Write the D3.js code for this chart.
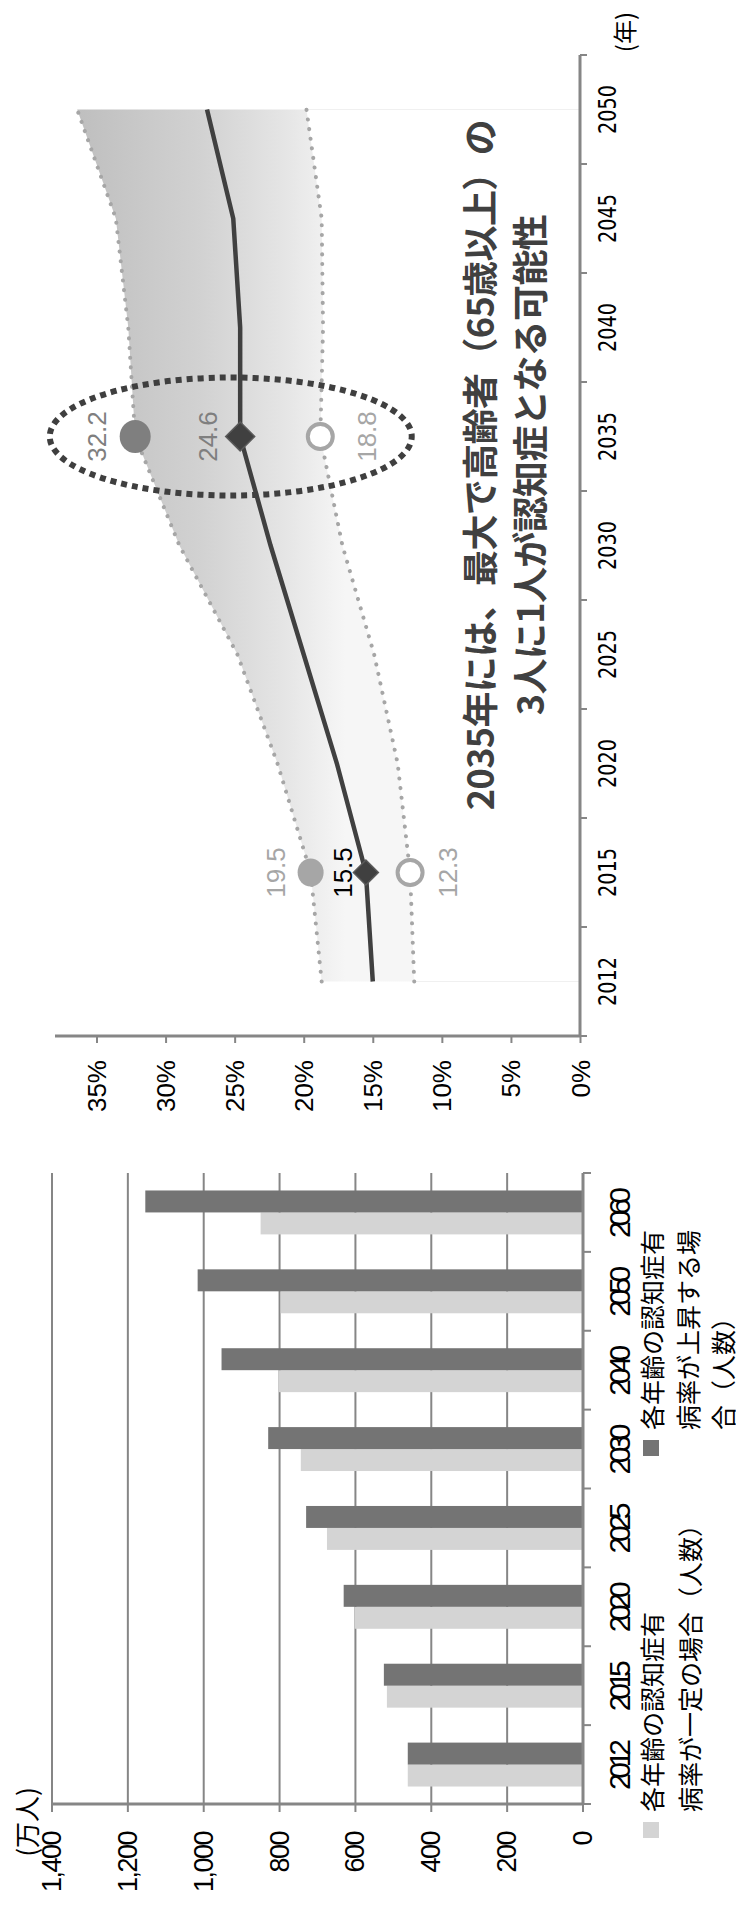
<!DOCTYPE html>
<html><head><meta charset="utf-8">
<script src="https://cdn.jsdelivr.net/npm/d3@7"></script>
<style>
html,body{margin:0;padding:0;background:#fff;}
svg{display:block;}
text{font-family:"Liberation Sans",Arial,sans-serif;}
.jp{font-family:"Noto Sans CJK JP","Noto Sans",sans-serif;}
</style></head>
<body>
<script>
// ---- line chart data (認知症有病率, %) ----
const years = ["2012","2015","2020","2025","2030","2035","2040","2045","2050"];
const midRate  = [15.0, 15.5, 17.6, 20.0, 22.4, 24.6, 24.6, 25.1, 27.0];
const highRate = [18.7, 19.5, 21.9, 24.8, 29.0, 32.2, 32.7, 33.6, 36.4];
const lowRate  = [12.0, 12.3, 13.2, 14.9, 17.2, 18.8, 18.6, 18.7, 19.8];
const pctTicks = [0, 5, 10, 15, 20, 25, 30, 35];
const highlightYears = ["2015", "2035"];
const annotationLines = ["2035年には、最大で高齢者（65歳以上）の", "3人に1人が認知症となる可能性"];

// ---- bar chart data (万人) ----
const barYears = ["2012","2015","2020","2025","2030","2040","2050","2060"];
const constantCase = [462, 517, 602, 675, 744, 802, 797, 850];
const risingCase   = [462, 525, 631, 730, 830, 953, 1016, 1154];
const barTicks = [0, 200, 400, 600, 800, 1000, 1200, 1400];
const barTickLabels = ["0","200","400","600","800","1,000","1,200","1,400"];
const legendConstant = ["各年齢の認知症有", "病率が一定の場合（人数）"];
const legendRising = ["各年齢の認知症有", "病率が上昇する場", "合（人数）"];

const W = 736, H = 1908;
const svg = d3.select("body").append("svg").attr("width", W).attr("height", H);
// landscape drawing, rotated 90° counter-clockwise
const root = svg.append("g").attr("transform", `translate(0,${H}) rotate(-90)`);

const defs = svg.append("defs");
const grad = defs.append("linearGradient").attr("id","bandGrad")
  .attr("gradientUnits","userSpaceOnUse").attr("x1",0).attr("x2",0).attr("y1",60).attr("y2",345);
[[0,"#bcbcbc"],[0.5,"#d2d2d2"],[0.8,"#e6e6e6"],[1,"#f6f6f6"]].forEach(s=>
  grad.append("stop").attr("offset",s[0]).attr("stop-color",s[1]));

// ================= LINE CHART =================
const lc = root.append("g");
const xL = d3.scaleBand().domain(years).range([872, 1853]);
const yL = d3.scaleLinear().domain([0, 35]).range([580, 96.5]);
const cx = d => xL(d) + xL.bandwidth()/2;
const gridGray = "#868686";

const rows = years.map((y,i)=>({y, mid:midRate[i], hi:highRate[i], lo:lowRate[i]}));

// band area
lc.append("path").datum(rows)
  .attr("d", d3.area().x(d=>cx(d.y)).y0(d=>yL(d.lo)).y1(d=>yL(d.hi)))
  .attr("fill","url(#bandGrad)");
[rows[0], rows[rows.length-1]].forEach(d=>{
  lc.append("line").attr("x1",cx(d.y)).attr("x2",cx(d.y))
    .attr("y1",yL(d.lo)).attr("y2",yL(0)).attr("stroke","#f0f0f0").attr("stroke-width",1);
});

// axes
const yAxisL = lc.append("g").attr("transform","translate(872,0)")
  .call(d3.axisLeft(yL).tickValues(pctTicks).tickSize(7).tickFormat(d=>d+"%"));
yAxisL.select(".domain").remove();
yAxisL.append("line").attr("x1",0).attr("x2",0).attr("y1",55).attr("y2",580)
  .attr("stroke",gridGray).attr("stroke-width",3);
yAxisL.selectAll(".tick line").attr("stroke",gridGray).attr("stroke-width",2);
yAxisL.selectAll(".tick text").attr("x",-24).attr("dy",null)
  .attr("dominant-baseline","central").attr("font-size",26).attr("fill","#000")
  .style("font-family","'Liberation Sans',Arial,sans-serif");

const xAxisL = lc.append("g").attr("transform","translate(0,580)");
xAxisL.append("line").attr("x1",872).attr("x2",1853).attr("y1",0).attr("y2",0)
  .attr("stroke",gridGray).attr("stroke-width",3);
const bounds = years.map(d=>xL(d)).concat([xL(years[years.length-1])+xL.bandwidth()]);
xAxisL.selectAll(".tk").data(bounds).enter().append("line")
  .attr("x1",d=>d).attr("x2",d=>d).attr("y1",0).attr("y2",7)
  .attr("stroke",gridGray).attr("stroke-width",2);
xAxisL.selectAll(".yl").data(years).enter().append("text")
  .attr("x",d=>cx(d)).attr("y",27).attr("text-anchor","middle")
  .attr("dominant-baseline","central").attr("font-size",25)
  .attr("textLength",49).attr("lengthAdjust","spacingAndGlyphs")
  .style("font-family","'DejaVu Sans',sans-serif").attr("fill","#000").text(d=>d);
lc.append("text").attr("class","jp").attr("x",1876).attr("y",623)
  .attr("text-anchor","middle").attr("dominant-baseline","central")
  .attr("font-size",24).attr("fill","#000").text("(年)");

// dotted high/low lines
const lineGen = key => d3.line().x(d=>cx(d.y)).y(d=>yL(d[key]));
["hi","lo"].forEach(k=>{
  lc.append("path").datum(rows).attr("d",lineGen(k)).attr("fill","none")
    .attr("stroke","#a6a6a6").attr("stroke-width",4)
    .attr("stroke-dasharray","0.1 9.6").attr("stroke-linecap","round");
});
// middle line
lc.append("path").datum(rows).attr("d",lineGen("mid")).attr("fill","none")
  .attr("stroke","#404040").attr("stroke-width",4.5);

// highlight markers
highlightYears.forEach((yr,j)=>{
  const d = rows[years.indexOf(yr)];
  const big = j === 1;
  const X = cx(yr);
  lc.append("ellipse").attr("cx",X).attr("cy",yL(d.hi))
    .attr("rx", big?16.5:14).attr("ry", big?15.5:13)
    .attr("fill", big?"#7f7f7f":"#a6a6a6");
  lc.append("circle").attr("cx",X).attr("cy",yL(d.lo)).attr("r",12.5)
    .attr("fill","#fff").attr("stroke","#a6a6a6").attr("stroke-width",4);
  const s = big?14.5:12.5, Y = yL(d.mid);
  lc.append("path").attr("d",`M${X},${Y-s}L${X+s},${Y}L${X},${Y+s}L${X-s},${Y}Z`)
    .attr("fill","#404040").attr("stroke","#5a5a5a").attr("stroke-width",1.5);
  const lab = (v, off, col) => lc.append("text").attr("x",X).attr("y",yL(v)+off)
    .attr("text-anchor","middle").attr("dominant-baseline","central")
    .attr("font-size",26).attr("fill",col).text(v.toFixed(1));
  lab(d.hi, big?-38:-35, big?"#7f7f7f":"#a6a6a6");
  lab(d.mid, big?-32:-23, big?"#7f7f7f":"#000");
  lab(d.lo, big?47:38, "#a6a6a6");
});

// dotted ellipse around 2035
const e35 = rows[years.indexOf("2035")];
lc.append("ellipse").attr("cx",cx("2035"))
  .attr("cy",(yL(e35.hi)+yL(e35.lo))/2 + 3).attr("rx",59).attr("ry",181)
  .attr("fill","none").attr("stroke","#3f3f3f").attr("stroke-width",6)
  .attr("stroke-dasharray","6 5");

// annotation
annotationLines.forEach((t,i)=>{
  lc.append("text").attr("class","jp").attr("x",1443).attr("y",478 + i*50)
    .attr("text-anchor","middle").attr("dominant-baseline","central")
    .attr("font-size",36).attr("font-weight","bold").attr("letter-spacing","-0.6")
    .attr("fill","#404040").text(t);
});

// ================= BAR CHART =================
const bc = root.append("g");
const xB = d3.scaleBand().domain(barYears).range([104, 735]).paddingInner(0.443).paddingOuter(0.2215);
const xSub = d3.scaleBand().domain(["constant","rising"]).range([0, xB.bandwidth()]);
const yB = d3.scaleLinear().domain([0, 1400]).range([583, 52]);
const stepB = xB.step();
const bandStart = d => 104 + barYears.indexOf(d)*stepB;

bc.selectAll(".grid").data(barTicks.slice(1)).enter().append("line")
  .attr("x1",104).attr("x2",735).attr("y1",d=>yB(d)).attr("y2",d=>yB(d))
  .attr("stroke",gridGray).attr("stroke-width",2);

const barRows = barYears.map((y,i)=>({y, constant:constantCase[i], rising:risingCase[i]}));
const colors = {constant:"#d4d4d4", rising:"#747474"};
barRows.forEach(r=>{
  ["constant","rising"].forEach(k=>{
    bc.append("rect").attr("x", xB(r.y)+xSub(k)).attr("width", xSub.bandwidth())
      .attr("y", yB(r[k])).attr("height", yB(0)-yB(r[k])).attr("fill", colors[k]);
  });
});

bc.append("line").attr("x1",104).attr("x2",104).attr("y1",52).attr("y2",583)
  .attr("stroke",gridGray).attr("stroke-width",3);
bc.selectAll(".vt").data(barTicks).enter().append("line")
  .attr("x1",96).attr("x2",104).attr("y1",d=>yB(d)).attr("y2",d=>yB(d))
  .attr("stroke",gridGray).attr("stroke-width",2);
bc.selectAll(".vl").data(barTicks).enter().append("text")
  .attr("x",76).attr("y",d=>yB(d)).attr("text-anchor","end")
  .attr("dominant-baseline","central").attr("font-size",27)
  .attr("letter-spacing","-1.5").attr("fill","#000")
  .text((d,i)=>barTickLabels[i]);
bc.append("text").attr("class","jp").attr("x",86).attr("y",25)
  .attr("text-anchor","middle").attr("dominant-baseline","central")
  .attr("font-size",26).attr("fill","#000").text("(万人)");

bc.append("line").attr("x1",104).attr("x2",735).attr("y1",583).attr("y2",583)
  .attr("stroke",gridGray).attr("stroke-width",3);
const bB = barYears.map(d=>bandStart(d)).concat([735]);
bc.selectAll(".ct").data(bB).enter().append("line")
  .attr("x1",d=>d).attr("x2",d=>d).attr("y1",583).attr("y2",591)
  .attr("stroke",gridGray).attr("stroke-width",2);
bc.selectAll(".cl").data(barYears).enter().append("text")
  .attr("x",d=>bandStart(d)+stepB/2).attr("y",619).attr("text-anchor","middle")
  .attr("dominant-baseline","central").attr("font-size",30)
  .attr("textLength",51).attr("lengthAdjust","spacing").attr("fill","#000").text(d=>d);

function legendItem(x0, color, lines, ys){
  bc.append("rect").attr("x",x0-26).attr("y",643).attr("width",16).attr("height",16).attr("fill",color);
  lines.forEach((t,i)=>{
    bc.append("text").attr("class","jp").attr("x",x0).attr("y",ys[i])
      .attr("dominant-baseline","central").attr("font-size",25).attr("fill","#000").text(t);
  });
}
legendItem(96, colors.constant, legendConstant, [651, 689]);
legendItem(478, colors.rising, legendRising, [651, 687, 722]);
</script>
</body></html>
